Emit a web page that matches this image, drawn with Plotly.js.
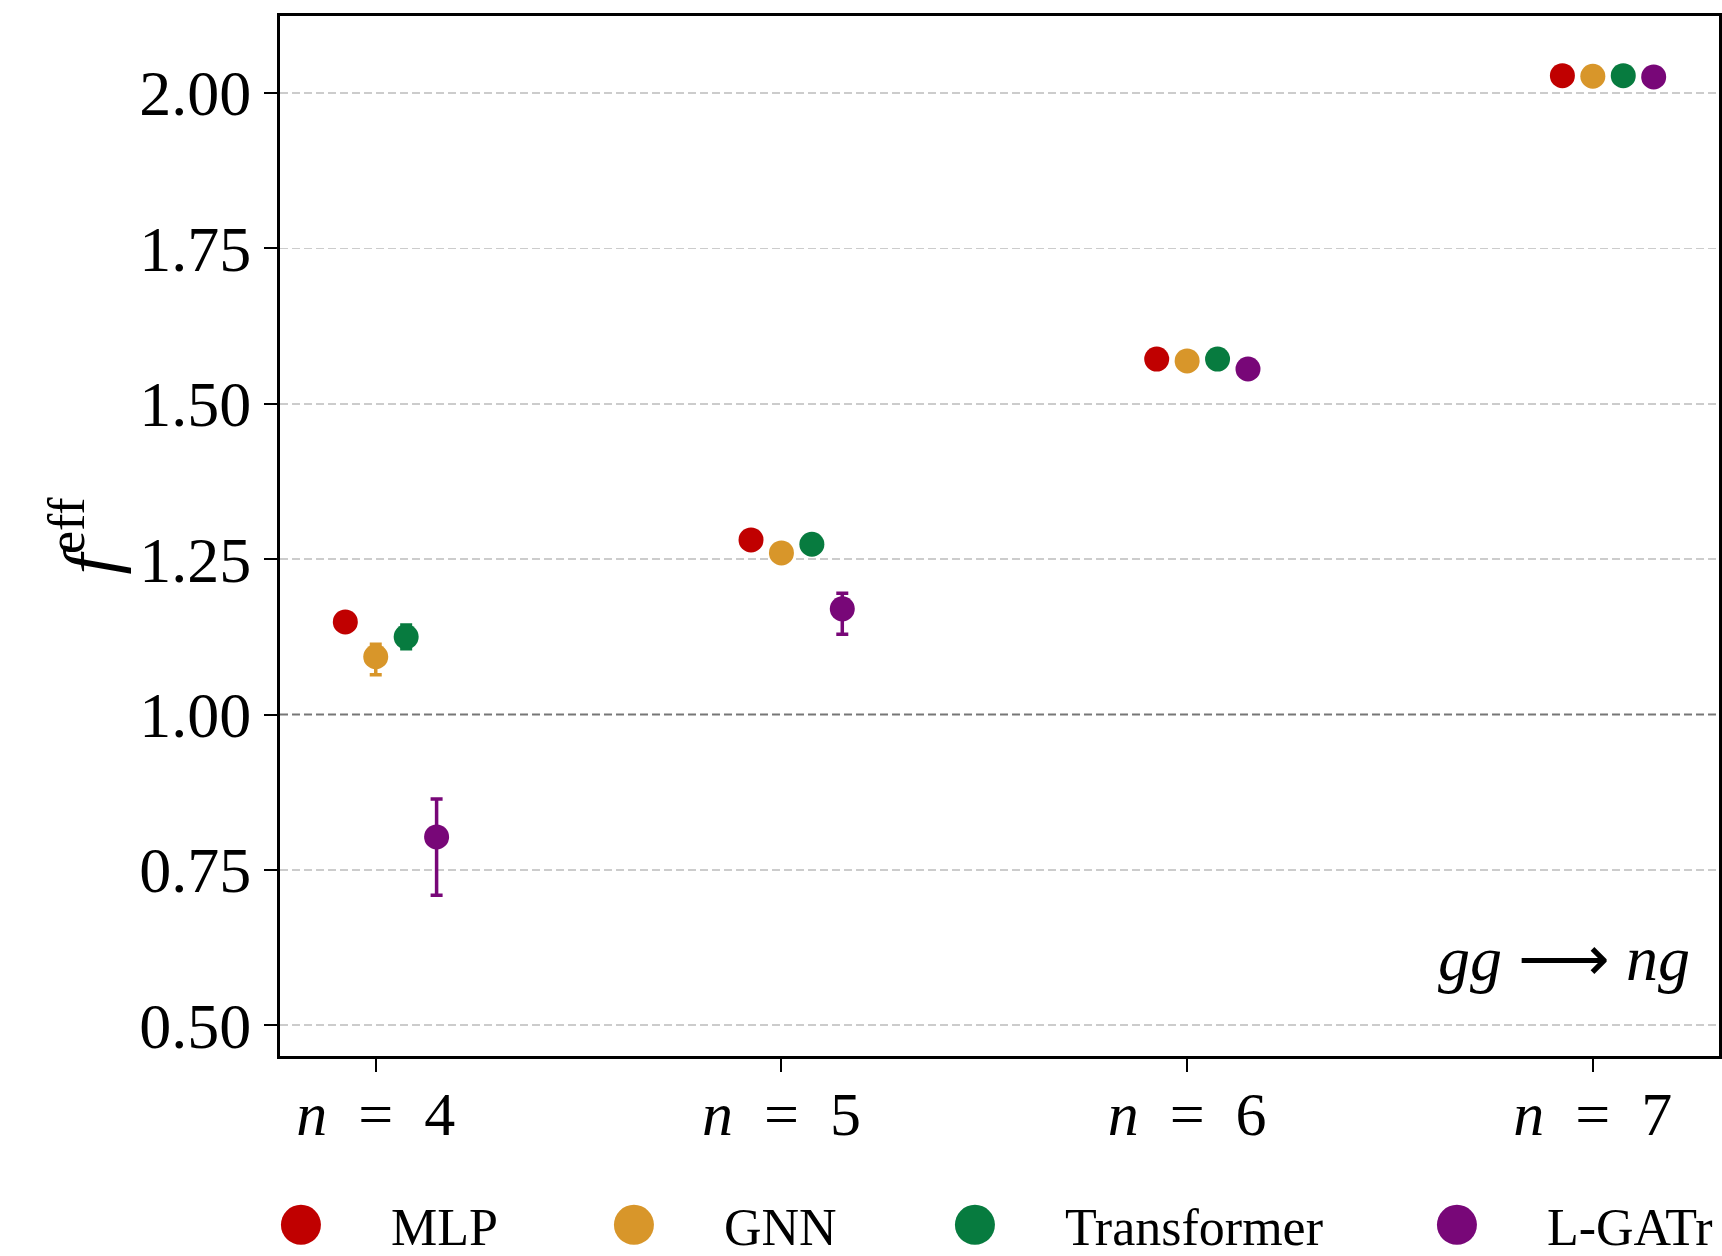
<!DOCTYPE html>
<html>
<head>
<meta charset="utf-8">
<script src="https://cdn.plot.ly/plotly-3.0.1.min.js"></script>
<style>
  html, body { margin: 0; padding: 0; background: #ffffff; }
  #chart { width: 1722px; height: 1256px; }
</style>
</head>
<body>
<div id="chart"></div>
<script>
// ---------------- data ----------------
const nValues = [4, 5, 6, 7];
const models = ['MLP', 'GNN', 'Transformer', 'L-GATr'];

const mlpValues = [1.149, 1.281, 1.572, 2.028];
const mlpErrPlus = [0.006, 0.006, 0.005, 0.004];
const mlpErrMinus = [0.006, 0.006, 0.005, 0.004];

const gnnValues = [1.093, 1.260, 1.569, 2.027];
const gnnErrPlus = [0.020, 0.006, 0.005, 0.004];
const gnnErrMinus = [0.029, 0.006, 0.005, 0.004];

const transformerValues = [1.125, 1.274, 1.572, 2.028];
const transformerErrPlus = [0.019, 0.006, 0.005, 0.004];
const transformerErrMinus = [0.019, 0.006, 0.005, 0.004];

const lgatrValues = [0.803, 1.170, 1.556, 2.026];
const lgatrErrPlus = [0.061, 0.025, 0.006, 0.004];
const lgatrErrMinus = [0.094, 0.041, 0.006, 0.004];

const yTickValues = [0.50, 0.75, 1.00, 1.25, 1.50, 1.75, 2.00];
const referenceLevel = 1.00;
const processLabel = '<i>gg</i> \u27f6 <i>ng</i>';

// ---------------- style ----------------
const colors = ['#c00000', '#d8962a', '#077b3f', '#780778'];
const offsets = [-0.075, 0, 0.075, 0.15];
const legendWidths = [148, 156, 297, 180];
const FONT = 'Liberation Serif, Times New Roman, serif';

const series = [
  [mlpValues, mlpErrPlus, mlpErrMinus],
  [gnnValues, gnnErrPlus, gnnErrMinus],
  [transformerValues, transformerErrPlus, transformerErrMinus],
  [lgatrValues, lgatrErrPlus, lgatrErrMinus]
];

const traces = series.map(function (s, k) {
  return {
    type: 'scatter',
    mode: 'markers',
    name: models[k],
    x: nValues.map(function (_, i) { return i + offsets[k]; }),
    y: s[0],
    error_y: {
      type: 'data', symmetric: false,
      array: s[1], arrayminus: s[2],
      color: colors[k], thickness: 3.5, width: 6
    },
    marker: { color: colors[k], size: 25, line: { width: 0 } },
    legendwidth: legendWidths[k],
    hoverinfo: 'x+y'
  };
});

const tickText = nValues.map(function (n) {
  return '<i>n</i>\u00a0\u00a0=\u00a0\u00a0' + n;
});

const layout = {
  width: 1722,
  height: 1256,
  margin: { l: 280, r: 3, t: 16, b: 200, pad: 0, autoexpand: false },
  paper_bgcolor: '#ffffff',
  plot_bgcolor: '#ffffff',
  font: { family: FONT, color: '#000000', size: 60 },
  showlegend: true,
  legend: {
    orientation: 'h',
    xref: 'paper', yref: 'paper',
    x: -0.048, xanchor: 'left',
    y: -0.1625, yanchor: 'middle',
    font: { family: FONT, size: 52, color: '#000000' },
    itemwidth: 170,
    bgcolor: 'rgba(0,0,0,0)',
    borderwidth: 0
  },
  xaxis: {
    range: [-0.236, 3.311],
    tickmode: 'array',
    tickvals: nValues.map(function (_, i) { return i; }),
    ticktext: tickText,
    showgrid: false,
    zeroline: false,
    showline: true, mirror: true, linecolor: '#000000', linewidth: 3,
    ticks: 'outside', ticklen: 13, tickwidth: 2, tickcolor: '#000000',
    tickfont: { family: FONT, size: 62, color: '#000000' },
    ticklabelstandoff: -11,
    automargin: false
  },
  yaxis: {
    range: [0.4505, 2.124],
    tickmode: 'array',
    tickvals: yTickValues,
    ticktext: yTickValues.map(function (v) { return v.toFixed(2); }),
    showgrid: true, gridcolor: '#cccccc', gridwidth: 1.5, griddash: '8px,4px',
    zeroline: false,
    showline: true, mirror: true, linecolor: '#000000', linewidth: 3,
    ticks: 'outside', ticklen: 13, tickwidth: 2, tickcolor: '#000000',
    tickfont: { family: FONT, size: 64, color: '#000000' },
    ticklabelstandoff: 0,
    automargin: false,
    title: {
      text: '<i>f</i><sup>eff</sup>',
      font: { family: FONT, size: 74, color: '#000000' },
      standoff: 0
    }
  },
  shapes: [{
    type: 'line', xref: 'paper', yref: 'y',
    x0: 0, x1: 1, y0: referenceLevel, y1: referenceLevel,
    line: { color: '#777777', width: 2, dash: '8px,4px' },
    layer: 'above'
  }],
  annotations: [{
    xref: 'paper', yref: 'paper',
    x: 0.981, y: 0.094, xanchor: 'right', yanchor: 'middle',
    text: processLabel, showarrow: false,
    font: { family: FONT, size: 64, color: '#000000' }
  }]
};

Plotly.newPlot('chart', traces, layout, { displayModeBar: false, staticPlot: true }).then(function (gd) {
  // enlarge legend symbols (Plotly caps them at 16px)
  const R = 20;
  const d = 'M' + R + ',0A' + R + ',' + R + ' 0 1,1 0,-' + R + 'A' + R + ',' + R + ' 0 0,1 ' + R + ',0Z';
  gd.querySelectorAll('.legend .legendpoints path.scatterpts').forEach(function (p) {
    p.setAttribute('d', d);
  });
});
</script>
</body>
</html>
